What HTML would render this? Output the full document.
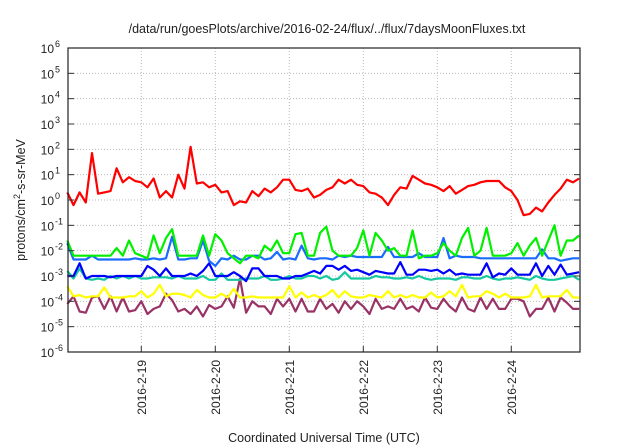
<!DOCTYPE html>
<html><head><meta charset="utf-8"><style>
html,body{margin:0;padding:0;background:#fff;}
svg{display:block;font-family:"Liberation Sans",sans-serif;}
</style></head><body>
<svg id="chart" width="640" height="448" viewBox="0 0 640 448" xmlns="http://www.w3.org/2000/svg">
<rect width="640" height="448" fill="#fff"/>
<text x="327" y="33" font-size="12.5" text-anchor="middle" fill="#222">/data/run/goesPlots/archive/2016-02-24/flux/../flux/7daysMoonFluxes.txt</text>
<text transform="translate(25,200) rotate(-90)" font-size="12.5" text-anchor="middle" fill="#222">protons/cm<tspan dy="-5" font-size="9">2</tspan><tspan dy="5">-s-sr-MeV</tspan></text>
<text x="324" y="442" font-size="12.5" text-anchor="middle" fill="#222">Coordinated Universal Time (UTC)</text>
<g id="grid"></g><g id="series"></g><g id="axes"></g>
</svg>
<script>
const dayLabels=["2016-2-19","2016-2-20","2016-2-21","2016-2-22","2016-2-23","2016-2-24"];
const yExponents=[-6,-5,-4,-3,-2,-1,0,1,2,3,4,5,6];
const stepHours=2;
const red=[0.3,-0.2,0.3,-0.1,1.85,0.25,0.3,0.35,1.25,0.7,0.9,0.75,0.7,0.5,0.85,0.1,0.35,0.1,1.0,0.45,2.1,0.65,0.7,0.5,0.6,0.3,0.35,-0.2,-0.05,-0.1,0.35,0.15,0.45,0.3,0.5,0.8,0.8,0.4,0.35,0.45,0.1,0.2,0.4,0.5,0.8,0.65,0.8,0.6,0.55,0.3,0.25,0.1,-0.2,0.2,0.5,0.45,0.95,0.8,0.65,0.6,0.5,0.35,0.55,0.25,0.4,0.55,0.6,0.7,0.75,0.75,0.75,0.5,0.35,0.0,-0.6,-0.55,-0.3,-0.45,-0.1,0.2,0.45,0.8,0.7,0.85];
const green=[-1.6,-2.2,-2.2,-2.2,-2.2,-2.2,-2.2,-2.2,-1.9,-2.2,-1.6,-2.1,-2.2,-2.3,-1.4,-2.1,-1.5,-1.15,-2.2,-2.2,-2.2,-2.2,-1.4,-2.2,-1.35,-1.6,-2.1,-2.3,-2.5,-2.2,-2.2,-2.3,-1.8,-2.0,-1.6,-2.1,-2.1,-1.35,-1.3,-2.2,-2.2,-1.3,-1.05,-2.0,-2.2,-2.2,-2.2,-1.9,-1.2,-2.2,-1.3,-1.6,-2.0,-1.9,-2.2,-2.2,-1.2,-2.3,-2.2,-2.2,-2.1,-1.7,-2.0,-2.2,-1.5,-1.1,-2.2,-2.0,-1.1,-2.2,-2.2,-2.2,-2.1,-1.7,-2.2,-1.8,-1.5,-2.2,-1.6,-1.0,-2.2,-1.6,-1.6,-1.4];
const lightBlue=[-1.7,-2.35,-2.35,-2.35,-2.2,-2.35,-2.35,-2.35,-2.35,-2.35,-2.35,-2.3,-2.35,-2.35,-2.3,-2.35,-2.3,-1.45,-2.35,-2.35,-2.3,-2.3,-1.6,-2.4,-2.6,-2.3,-2.35,-2.2,-2.35,-2.35,-2.2,-2.2,-2.35,-2.3,-2.05,-2.35,-2.3,-2.35,-1.8,-2.3,-2.35,-2.3,-2.3,-2.35,-2.2,-2.25,-2.2,-2.25,-2.25,-2.25,-2.25,-2.25,-1.85,-2.25,-2.25,-2.25,-2.25,-2.1,-2.25,-2.25,-2.25,-1.5,-2.3,-2.2,-2.25,-2.25,-2.25,-2.3,-2.3,-2.3,-2.3,-2.3,-2.3,-2.3,-2.3,-2.3,-2.3,-1.95,-2.3,-2.3,-2.4,-2.35,-2.3,-2.3];
const darkBlue=[-3.0,-3.0,-2.5,-3.1,-3.0,-3.0,-3.0,-3.05,-3.0,-3.0,-3.0,-3.0,-3.0,-2.6,-2.75,-3.0,-2.7,-3.0,-3.0,-3.0,-2.9,-3.0,-2.8,-2.5,-3.0,-3.0,-3.0,-2.85,-3.0,-3.2,-2.7,-2.7,-3.0,-3.0,-3.0,-3.1,-3.1,-3.0,-3.0,-2.9,-2.8,-2.9,-2.6,-2.6,-2.75,-2.6,-2.8,-2.75,-2.85,-2.95,-2.8,-2.85,-2.9,-2.9,-2.45,-2.95,-2.95,-2.75,-2.75,-2.8,-2.75,-2.9,-2.75,-2.95,-2.9,-2.95,-2.95,-2.95,-2.5,-3.05,-2.9,-2.95,-2.7,-2.95,-2.95,-2.95,-2.5,-3.0,-2.6,-2.95,-2.55,-2.95,-2.9,-2.85];
const teal=[-2.8,-3.1,-2.7,-3.1,-3.15,-3.1,-3.15,-3.0,-3.1,-3.0,-3.1,-3.0,-3.1,-3.1,-3.05,-3.05,-3.05,-3.1,-3.0,-3.1,-3.1,-3.1,-3.0,-3.15,-3.15,-2.9,-3.15,-3.15,-3.15,-3.1,-3.1,-3.1,-3.0,-3.15,-3.15,-3.1,-3.0,-3.1,-3.1,-3.0,-3.0,-3.1,-3.0,-3.15,-3.1,-2.85,-3.1,-3.1,-3.1,-3.1,-3.0,-3.05,-3.05,-3.1,-3.1,-3.05,-3.1,-3.0,-3.1,-3.15,-3.1,-3.1,-3.1,-3.15,-3.05,-3.05,-3.1,-3.1,-3.0,-3.1,-3.15,-3.1,-3.1,-3.05,-3.1,-3.15,-3.0,-3.1,-3.15,-3.15,-3.1,-3.05,-3.0,-3.15];
const yellow=[-3.4,-3.8,-3.75,-3.85,-3.8,-3.8,-3.45,-3.85,-3.85,-3.85,-3.8,-3.8,-3.6,-3.85,-3.7,-3.35,-3.8,-3.7,-3.7,-3.75,-3.85,-3.55,-3.75,-3.85,-3.85,-3.7,-3.85,-3.5,-3.85,-3.85,-3.8,-3.85,-3.85,-3.85,-3.85,-3.85,-3.4,-3.85,-3.65,-3.85,-3.75,-3.85,-3.75,-3.55,-3.85,-3.6,-3.8,-3.85,-3.85,-3.75,-3.8,-3.85,-3.6,-3.85,-3.75,-3.85,-3.75,-3.85,-3.85,-3.65,-3.85,-3.8,-3.6,-3.8,-3.35,-3.85,-3.8,-3.8,-3.6,-3.7,-3.85,-3.7,-3.85,-3.85,-3.85,-3.8,-3.35,-3.85,-3.8,-3.8,-3.8,-3.55,-3.85,-3.85];
const purple=[-4.1,-3.8,-4.4,-4.45,-3.85,-3.8,-4.3,-3.8,-4.4,-3.85,-4.4,-4.35,-4.0,-4.5,-4.3,-4.2,-3.7,-3.95,-4.4,-4.3,-4.5,-4.2,-4.6,-4.15,-4.3,-4.2,-3.8,-4.25,-3.1,-4.45,-4.0,-4.2,-4.2,-4.5,-3.9,-4.2,-3.9,-4.4,-3.9,-4.4,-4.4,-3.9,-4.3,-4.1,-4.45,-4.0,-4.3,-4.0,-4.2,-4.5,-3.9,-4.3,-4.2,-4.3,-3.9,-4.3,-4.2,-4.4,-3.85,-4.25,-4.3,-3.9,-4.2,-4.4,-3.85,-4.3,-4.4,-3.85,-4.3,-3.9,-4.3,-4.3,-3.9,-3.9,-4.0,-4.6,-4.3,-4.3,-3.85,-4.4,-3.85,-4.05,-4.3,-4.3];

const L=68,R=580,T=48,B=352;
const dayPx=74, x0=67.3;
const xs=d=>x0+d*dayPx;           // d in days since Feb 18 00:00
const ys=e=>B-(e+6)*(B-T)/12;     // e = log10 value
const NS="http://www.w3.org/2000/svg";
const mk=(tag,attrs,parent)=>{const el=document.createElementNS(NS,tag);for(const k in attrs)el.setAttribute(k,attrs[k]);parent.appendChild(el);return el;};
const grid=document.getElementById('grid'),axes=document.getElementById('axes'),ser=document.getElementById('series');

yExponents.forEach(e=>{
  const y=ys(e);
  if(e>-6&&e<6){const g=mk('line',{x1:L,x2:R,y1:y,y2:y,stroke:'#bbb','stroke-width':1,'stroke-dasharray':'1,2'},grid);
  
  }
  const t=mk('line',{x1:L,x2:L+6,y1:y,y2:y,stroke:'#333'},axes);
  
  
  const t2=mk('line',{x1:R-6,x2:R,y1:y,y2:y,stroke:'#333'},axes);
  
  
  const lab=mk('text',{x:L-14,y:y+5,'font-size':12,'text-anchor':'end',fill:'#222'},axes);
  
  
  lab.textContent='10';
  const sup=mk('text',{x:L-13,y:y-1,'font-size':9,'text-anchor':'start',fill:'#222'},axes);
  
  
  sup.textContent=String(e);
});
dayLabels.forEach((d,i)=>{
  const x=xs(i+1);
  const g=mk('line',{x1:x,x2:x,y1:T,y2:B,stroke:'#bbb','stroke-width':1,'stroke-dasharray':'1,2'},grid);
  
  
  const t=mk('line',{x1:x,x2:x,y1:B-6,y2:B,stroke:'#333'},axes);
  
  
  const lab=mk('text',{transform:`translate(${x+4.5},${B+8}) rotate(-90)`,'font-size':12,'text-anchor':'end',fill:'#222'},axes);
  
  
  lab.textContent=d;
});
const fr=mk('rect',{x:L,y:T,width:R-L,height:B-T,fill:'none',stroke:'#222','stroke-width':1.2},axes);



const seriesList=[[purple,'#993366','purple-series'],[yellow,'#ffff00','yellow-series'],[teal,'#14c8a0','teal-series'],[darkBlue,'#0000ff','dark-blue-series'],[lightBlue,'#1a6cff','light-blue-series'],[green,'#00f000','green-series'],[red,'#ff0000','red-series']];
seriesList.forEach(([vals,col,name])=>{
  const pts=vals.map((v,i)=>xs(i*stepHours/24).toFixed(1)+','+ys(v).toFixed(1)).join(' ');
  const pl=mk('polyline',{points:pts,fill:'none',stroke:col,'stroke-width':2.2,'stroke-linejoin':'round'},ser);
  
  
});
</script>
</body></html>
